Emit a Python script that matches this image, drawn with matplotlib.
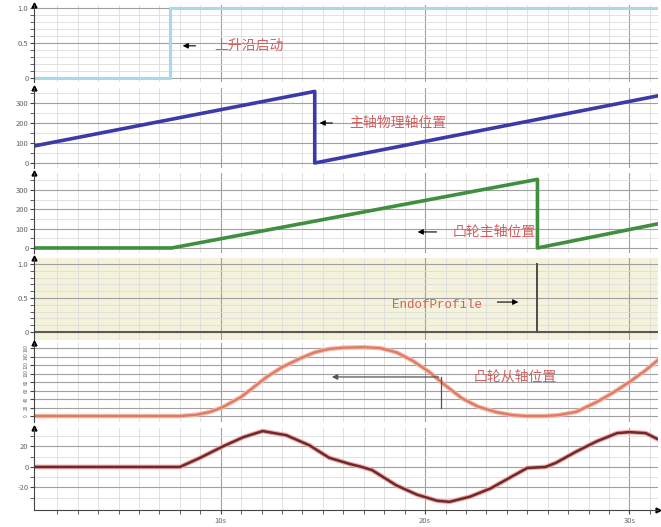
import numpy as np
import matplotlib.pyplot as plt

plt.rcParams['font.family'] = ['Noto Sans CJK SC', 'DejaVu Sans']

# data (time in s)
start_t = [0.86, 7.5, 7.5, 31.4]
start_v = [0, 0, 1, 1]

master_t = [0.86, 14.6, 14.6, 31.4]
master_v = [85, 358, 0, 336]

cam_master_t = [0.86, 7.6, 25.5, 25.5, 31.4]
cam_master_v = [0, 0, 355, 0, 125]

eop_t = [0.86, 25.5, 25.5, 25.5, 31.4]
eop_v = [0, 0, 1, 0, 0]

slave_t = [0.86, 8.0, 8.8, 9.5, 10.1, 11.0, 12.25, 13.0, 13.9, 14.6, 15.3, 16.0, 17.0,
           17.8, 18.6, 19.4, 20.2, 21.0, 21.8, 22.6, 23.5, 24.3, 25.0, 25.8, 26.5,
           27.4, 28.4, 29.2, 30.0, 30.8, 31.4]
slave_v = [0, 0, 3, 10, 21, 45, 92, 115, 136, 150, 158, 161, 162,
           160, 150, 130, 104, 72, 42, 22, 9, 2, 0, 0, 2,
           10, 33, 55, 80, 108, 132]

vel_t = [0.86, 8.0, 9.0, 10.1, 11.1, 12.05, 13.2, 14.35, 15.3, 16.3, 16.9, 17.4, 18.6,
         19.6, 20.6, 21.2, 22.2, 23.2, 24.1, 25.0, 25.9, 26.4, 27.4, 28.4, 29.4,
         30.0, 30.8, 31.4]
vel_v = [0, 0, 9, 20, 29, 35, 31, 21, 9, 3, 0, -3, -18,
         -27, -33, -34, -29, -21, -11, -1, 0, 4, 15, 25, 33,
         34, 33, 27]

xmin, xmax = 0.86, 31.4
W, H = 661, 527

fig = plt.figure(figsize=(6.61, 5.27), dpi=100)


def panel(top, bot, ylim, major, minor, labels, bg='white'):
    ax = fig.add_axes([34 / W, 1 - bot / H, (658 - 34) / W, (bot - top) / H])
    ax.set_facecolor(bg)
    ax.set_xlim(xmin, xmax)
    ax.set_ylim(*ylim)
    ax.set_xticks(np.arange(2, 32, 1), minor=True)
    ax.set_xticks([10, 20, 30])
    ax.set_yticks(major)
    ax.set_yticklabels(labels)
    ax.set_yticks(minor, minor=True)
    ax.grid(which='minor', color='#dcdcdc', lw=0.6)
    ax.grid(which='major', color='#a0a0a0', lw=0.8)
    for s in ['top', 'right', 'bottom']:
        ax.spines[s].set_visible(False)
    ax.spines['left'].set_color('#444444')
    ax.tick_params(axis='y', which='both', labelsize=5.5, labelcolor='#666666',
                   length=3, color='#444444', pad=1)
    ax.tick_params(axis='x', which='both', length=0, labelbottom=False)
    ax.plot(0, 1, marker='^', color='black', ms=3.5, transform=ax.transAxes, clip_on=False)
    return ax


ax1 = panel(5, 82, (-0.057, 1.043), [0, 0.5, 1.0], np.arange(0, 1.01, 0.1), ['0', '0.5', '1.0'])
ax1.plot(start_t, start_v, color='#a6d9ea', lw=2.2)
ax1.annotate('', xy=(8.0, 0.46), xytext=(8.9, 0.46),
             arrowprops=dict(arrowstyle='-|>', color='black', lw=0.8, mutation_scale=8))
ax1.text(9.7, 0.46, '上升沿启动', color='#d06060', fontsize=10, va='center')

ax2 = panel(88, 168, (-25, 375), [0, 100, 200, 300], np.arange(0, 360, 50), ['0', '100', '200', '300'])
ax2.plot(master_t, master_v, color='#3a3aa8', lw=2.6)
ax2.annotate('', xy=(14.7, 200), xytext=(15.6, 200),
             arrowprops=dict(arrowstyle='-|>', color='black', lw=0.8, mutation_scale=8))
ax2.text(16.3, 200, '主轴物理轴位置', color='#d06060', fontsize=10, va='center')

ax3 = panel(173, 253, (-26, 388), [0, 100, 200, 300], np.arange(0, 360, 50), ['0', '100', '200', '300'])
ax3.plot(cam_master_t, cam_master_v, color='#3f8f3f', lw=2.6)
ax3.annotate('', xy=(19.5, 83), xytext=(20.7, 83),
             arrowprops=dict(arrowstyle='-|>', color='black', lw=0.8, mutation_scale=8))
ax3.text(21.35, 83, '凸轮主轴位置', color='#d06060', fontsize=10, va='center')

ax4 = panel(258, 340, (-0.118, 1.088), [0, 0.5, 1.0], np.arange(0, 1.01, 0.1), ['0', '0.5', '1.0'],
            bg='#f4f2da')
ax4.axhline(0, color='#8a8a70', lw=1.5)
ax4.plot(eop_t, eop_v, color='#505050', lw=1.2)
ax4.text(18.4, 0.4, 'EndofProfile', family='Liberation Mono', color='#d06060',
         fontsize=9, va='center')
ax4.annotate('', xy=(24.7, 0.44), xytext=(23.4, 0.44),
             arrowprops=dict(arrowstyle='-|>', color='black', lw=0.8, mutation_scale=8))

sl_ticks = list(range(0, 161, 20))
ax5 = panel(343, 422, (-14, 172), sl_ticks, sl_ticks, [str(v) for v in sl_ticks])
for lab in ax5.get_yticklabels():
    lab.set_rotation(90)
    lab.set_va('center')
ax5.tick_params(axis='y', labelsize=3.4)
ax5.plot(slave_t, slave_v, color='#f2b8a8', lw=3.2)
ax5.plot(slave_t, slave_v, color='#e07a62', lw=1.6)
ax5.annotate('', xy=(15.3, 92), xytext=(20.8, 92),
             arrowprops=dict(arrowstyle='-|>', color='#555555', lw=0.9, mutation_scale=8))
ax5.plot([20.8, 20.8], [92, 19], color='#555555', lw=0.9)
ax5.text(22.4, 92, '凸轮从轴位置', color='#d06060', fontsize=10, va='center')

ax6 = panel(428, 510, (-42, 38), [-20, 0, 20], np.arange(-30, 31, 10), ['-20', '0', '20'])
ax6.plot(vel_t, vel_v, color='#f0a8a8', lw=3.4)
ax6.plot(vel_t, vel_v, color='#6e2a2a', lw=1.8)
ax6.spines['bottom'].set_visible(True)
ax6.spines['bottom'].set_color('#444444')
ax6.tick_params(axis='x', which='both', length=3, color='#444444', labelbottom=True,
                labelsize=5.5, labelcolor='#666666', pad=2)
ax6.set_xticklabels(['10s', '20s', '30s'])
ax6.plot(1, 0, marker='>', color='black', ms=3.5, transform=ax6.transAxes, clip_on=False)

plt.savefig('out.png', dpi=100)
plt.close()
